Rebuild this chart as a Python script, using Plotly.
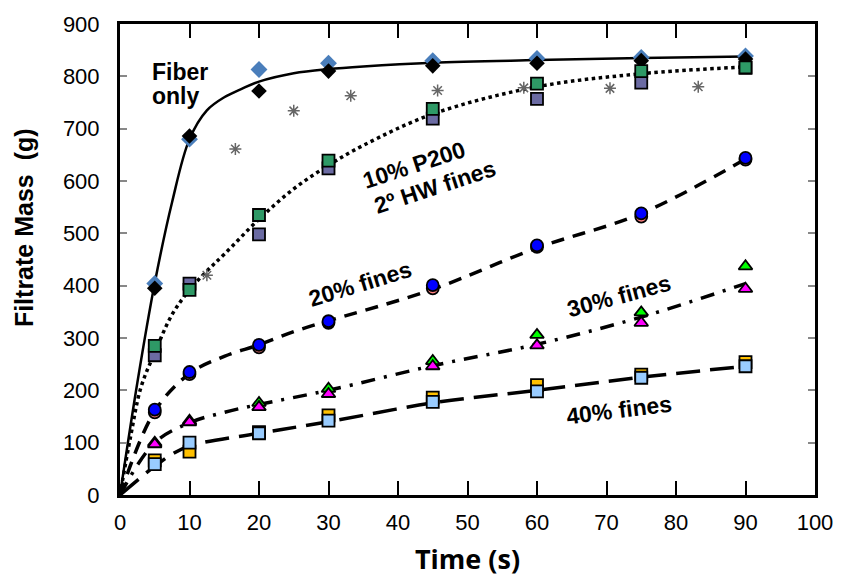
import plotly.graph_objects as go

# ---------------- data ----------------
t_meas = [5, 10, 20, 30, 45, 60, 75, 90]

fiber_a = [404, 680, 813, 825, 830, 834, 836, 839]      # blue diamonds
fiber_b = [395, 686, 772, 810, 820, 825, 830, 833]      # black diamonds
star_t = [12.5, 16.6, 25, 33.2, 45.7, 58.1, 70.5, 83.2]
star_y = [420, 661, 734, 763, 773, 778, 777, 780]

p10_a = [285, 392, 535, 639, 738, 786, 810, 817]        # green squares
p10_b = [267, 404, 498, 624, 719, 757, 788, 816]        # purple squares

p20_a = [163, 235, 287, 332, 401, 477, 538, 644]        # blue circles
p20_b = [158, 231, 282, 329, 395, 474, 532, 641]        # salmon circles

p30_a = [100, 142, 176, 203, 256, 306, 349, 437]        # green triangles
p30_b = [97, 139, 168, 193, 246, 286, 329, 394]         # magenta triangles

p40_a = [59, 100, 118, 142, 178, 198, 224, 246]         # light blue squares
p40_b = [66, 83, 120, 152, 186, 210, 230, 254]          # orange squares

# fitted curves
fit_fiber_t = [0, 2.5, 5, 7.5, 10, 12.5, 15, 17.5, 20, 25, 30, 35, 45, 60, 75, 90]
fit_fiber_y = [0, 215, 405, 560, 680, 735, 760, 776, 790, 806, 814, 819, 826, 831, 835, 838]

fit_10_t = [0, 1.5, 3, 5, 7.5, 10, 12.5, 15, 20, 25, 30, 35, 45, 60, 75, 90]
fit_10_y = [0, 110, 205, 272, 345, 392, 428, 460, 527, 585, 630, 668, 728, 780, 805, 818]

fit_20_t = [0, 5, 10, 15, 20, 25, 30, 35, 45, 60, 75, 90]
fit_20_y = [0, 160, 232, 265, 287, 312, 333, 352, 393, 472, 538, 642]

fit_30_t = [0, 5, 10, 15, 20, 30, 45, 60, 75, 90]
fit_30_y = [0, 100, 138, 158, 173, 200, 247, 288, 340, 404]

fit_40_t = [0, 5, 7.5, 10, 20, 30, 45, 60, 75, 90]
fit_40_y = [0, 55, 78, 94, 118, 140, 176, 200, 225, 246]

x_ticks = list(range(0, 101, 10))
y_ticks = list(range(0, 901, 100))

# ---------------- figure ----------------
fig = go.Figure()

def line(x, y, dash, w=3):
    fig.add_trace(go.Scatter(x=x, y=y, mode="lines",
                             line=dict(color="black", width=w, dash=dash,
                                       shape="spline", smoothing=1.0),
                             hoverinfo="skip"))

line(fit_fiber_t, fit_fiber_y, "solid", 2.5)
line(fit_10_t, fit_10_y, "dot", 3.5)
line(fit_20_t, fit_20_y, "13px,9px", 3.5)
line(fit_30_t, fit_30_y, "14px,9px,3px,9px", 3.5)
line(fit_40_t, fit_40_y, "24px,10px", 3.5)

def pts(x, y, symbol, color, size, lw=1.8, lc="black"):
    fig.add_trace(go.Scatter(x=x, y=y, mode="markers",
                             marker=dict(symbol=symbol, color=color, size=size,
                                         line=dict(color=lc, width=lw))))

pts(star_t, star_y, "asterisk-open", "#666666", 10, 1.5, "#666666")
pts(t_meas, fiber_a, "diamond", "#4A7EBB", 13, 0)
pts(t_meas, fiber_b, "diamond", "black", 12, 0)
pts(t_meas, p10_b, "square", "#6B6BA3", 12)
pts(t_meas, p10_a, "square", "#2E9966", 12)
pts(t_meas, p20_b, "circle", "#FF8080", 12)
pts(t_meas, p20_a, "circle", "#0000FF", 12)
pts(t_meas, p30_a, "triangle-up", "#00FF00", 12)
pts(t_meas, p30_b, "triangle-up", "#FF00FF", 12)
pts(t_meas, p40_b, "square", "#FFC000", 12)
pts(t_meas, p40_a, "square", "#99CCFF", 12)

ann_font = dict(family="Liberation Sans, Arial", size=23, color="black")

def ann(text, x, y, angle=0, xanchor="center"):
    fig.add_annotation(x=x, y=y, xref="x", yref="y", text="<b>%s</b>" % text,
                       showarrow=False, textangle=angle, font=ann_font,
                       xanchor=xanchor, yanchor="middle")

ann("Fiber", 4.3, 808, 0, "left")
ann("only", 4.3, 763, 0, "left")
ann("10% P200", 42.3, 630, -18)
ann("2º HW fines", 45.3, 589, -18)
ann("20% fines", 34.5, 404, -17)
ann("30% fines", 71.8, 380, -15)
ann("40% fines", 71.8, 163, -7)

fig.add_annotation(x=(23 - 120) / 698, y=(495 - 222) / 481, xref="paper", yref="paper",
                   text="<b>Filtrate Mass  (g)</b>",
                   showarrow=False, textangle=-90, xanchor="center", yanchor="middle",
                   font=dict(family="Liberation Sans, Arial", size=25, color="black"))

fig.update_layout(
    width=845, height=588,
    margin=dict(l=120, r=27, t=14, b=93),
    paper_bgcolor="white", plot_bgcolor="white",
    showlegend=False,
    font=dict(family="Liberation Sans, Arial", size=22, color="black"),
)

fig.update_xaxes(range=[0, 100], tickvals=x_ticks, ticktext=[str(v) for v in x_ticks],
                 showgrid=False, zeroline=False,
                 showline=True, linecolor="black", linewidth=3, mirror="ticks",
                 ticks="inside", ticklen=14, tickwidth=2, tickcolor="black",
                 ticklabelstandoff=6,
                 title=dict(text="<b>Time (s)</b>", standoff=16,
                            font=dict(family="Open Sans", size=27, color="black")))
fig.update_yaxes(range=[0, 900], tickvals=y_ticks, ticktext=[str(v) for v in y_ticks],
                 showgrid=False, zeroline=False,
                 showline=True, linecolor="black", linewidth=3, mirror="ticks",
                 ticks="inside", ticklen=7, tickwidth=2, tickcolor="#888888",
                 ticklabelstandoff=13)

fig.write_html("out.html")
